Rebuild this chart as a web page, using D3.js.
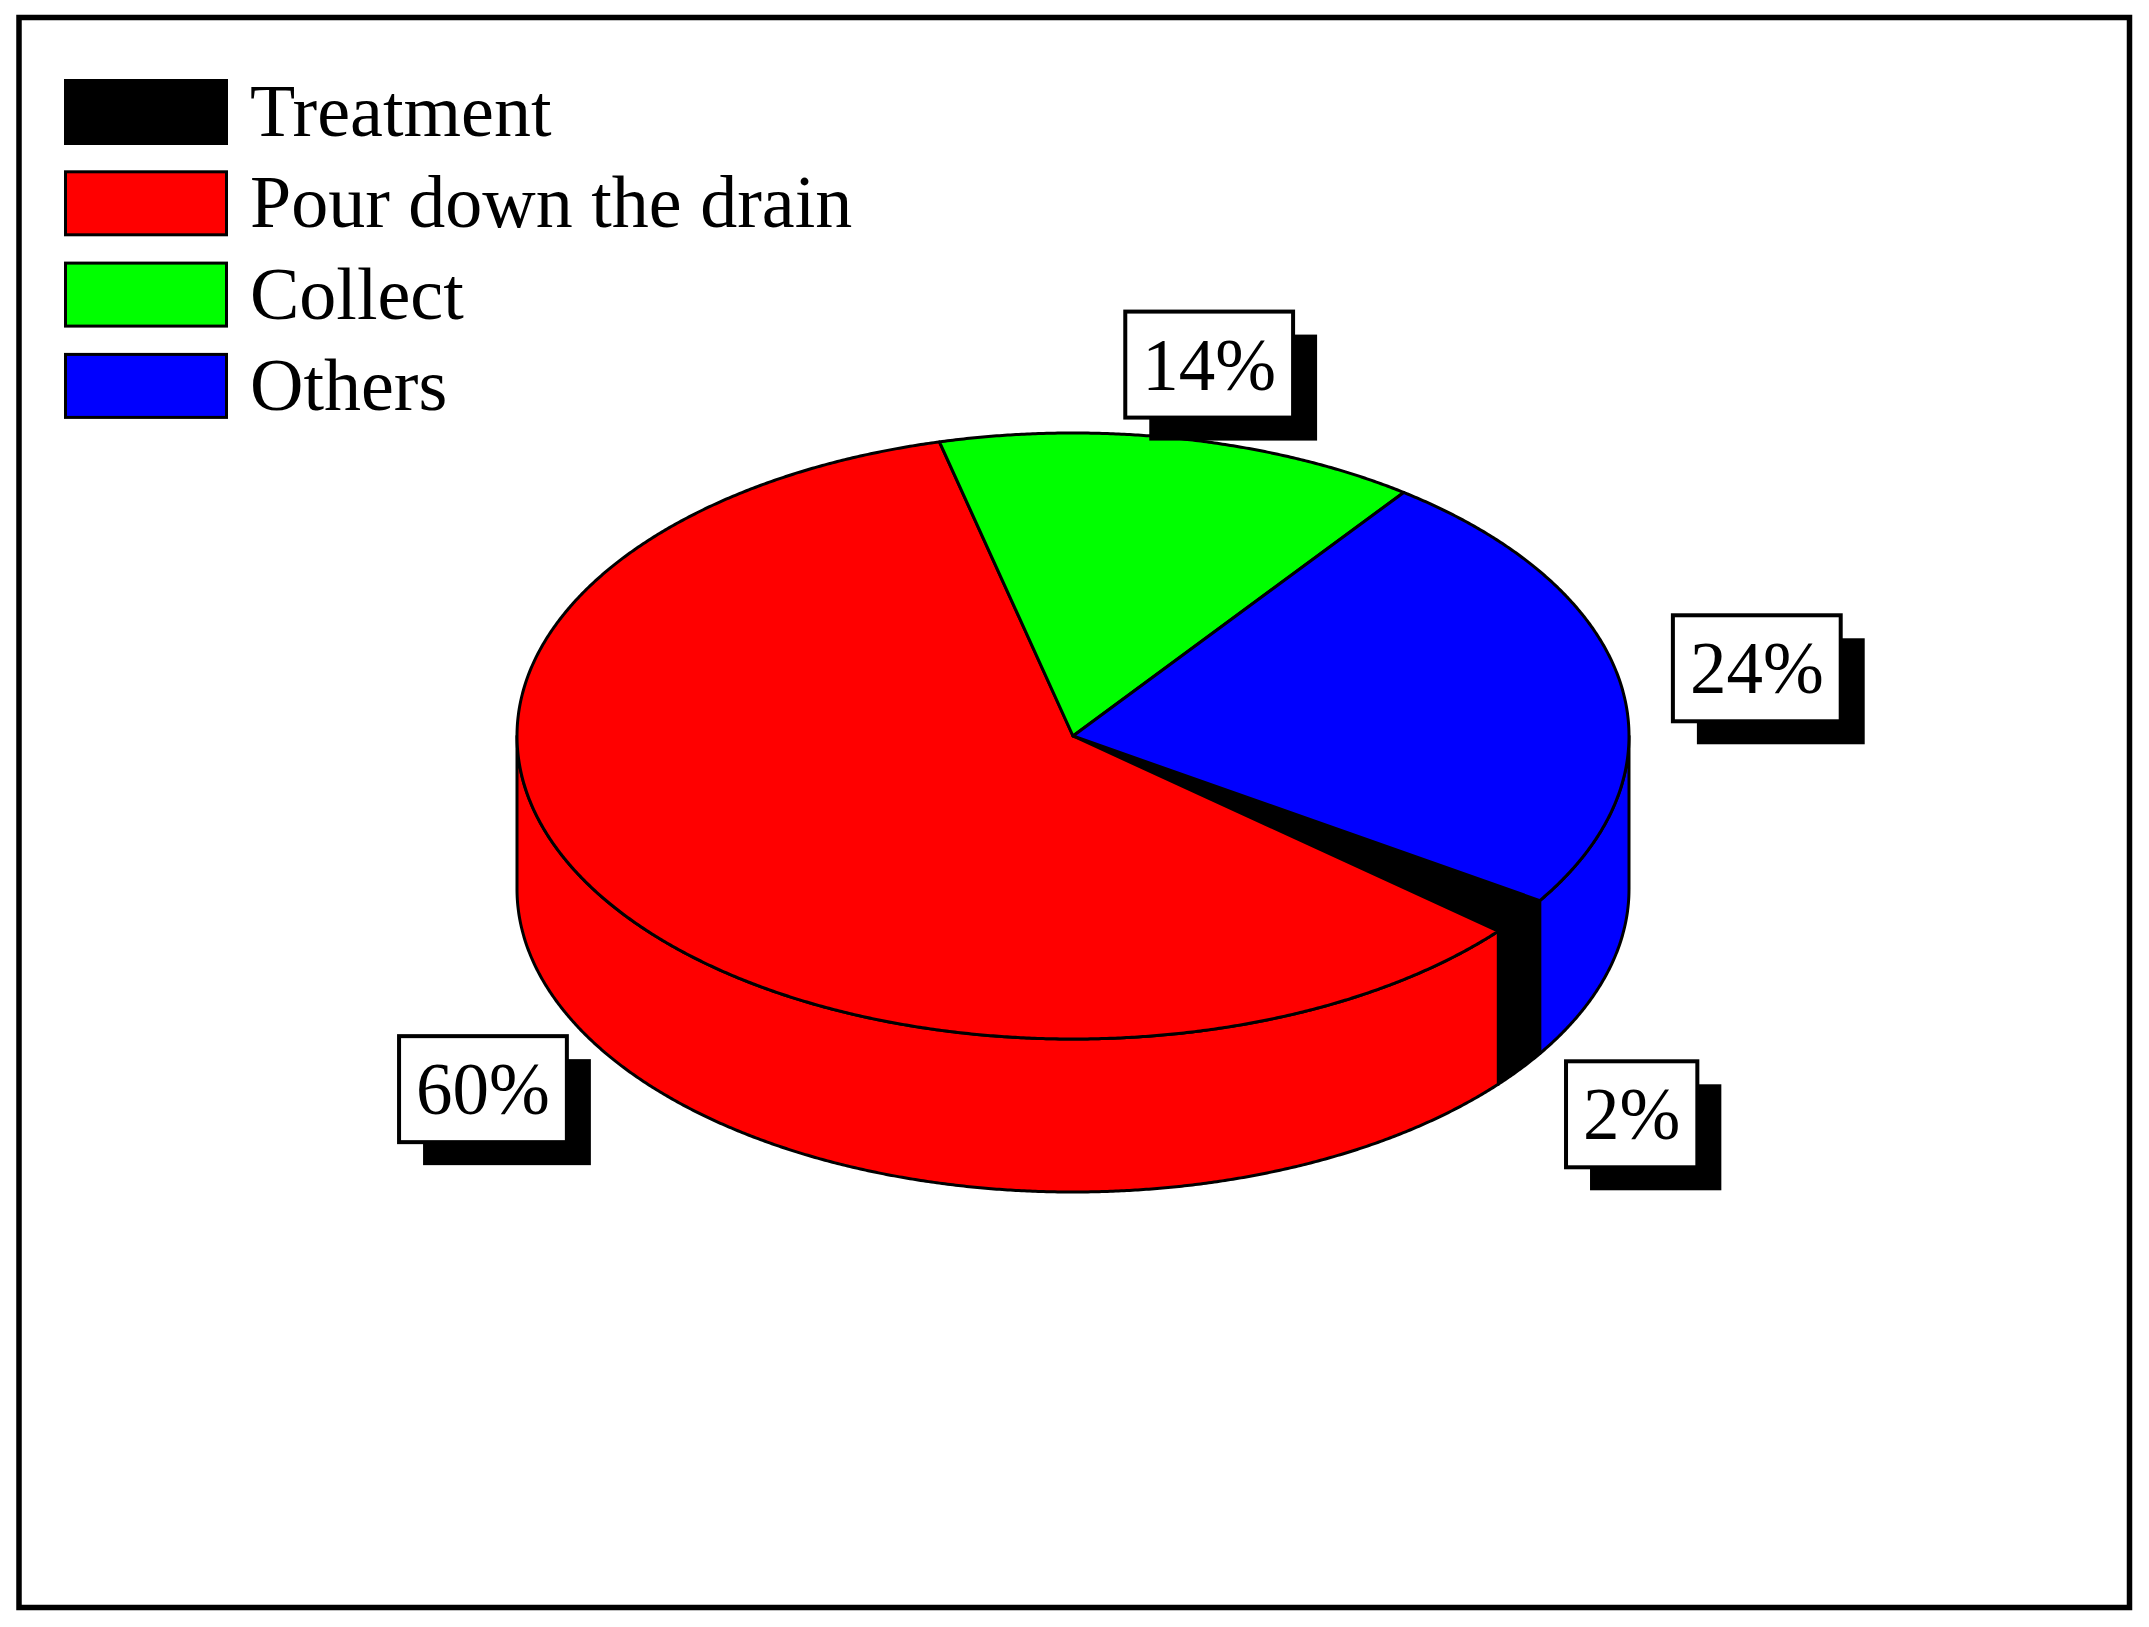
<!DOCTYPE html>
<html>
<head>
<meta charset="utf-8">
<script src="https://cdn.jsdelivr.net/npm/d3@7"></script>
<style>
  html, body { margin: 0; padding: 0; background: #fff; }
  svg { display: block; }
  text { font-family: "Liberation Serif", "Times New Roman", serif; fill: #000; }
</style>
</head>
<body>
<svg id="chart"></svg>
<script>
// data
const categories = ['Treatment', 'Pour down the drain', 'Collect', 'Others'];
const values = [2, 60, 14, 24];
const colors = ['#000000', '#ff0000', '#00ff00', '#0000ff'];

const width = 2149;
const height = 1627;

const svg = d3.select('#chart').attr('width', width).attr('height', height);

// outer frame
svg.append('rect')
  .attr('x', 19).attr('y', 17.5)
  .attr('width', 2129.5 - 19).attr('height', 1607.5 - 17.5)
  .attr('fill', '#fff').attr('stroke', '#000').attr('stroke-width', 5.5);

const color = d3.scaleOrdinal().domain(categories).range(colors);

// 3d pie geometry
const cx = 1073, cy = 736, rx = 556, ry = 303, depth = 153;
const start = 122.9 * Math.PI / 180;

const pie = d3.pie().sort(null).value(d => d.value)
  .startAngle(start).endAngle(start + 2 * Math.PI);
const arcs = pie(categories.map((c, i) => ({name: c, value: values[i]})));

const pt = (a, dy) => [cx + rx * Math.sin(a), cy - ry * Math.cos(a) + dy];
const ring = (a0, a1, dy) => {
  const n = Math.max(2, Math.ceil((a1 - a0) / 0.005));
  return d3.range(n + 1).map(i => pt(a0 + (a1 - a0) * i / n, dy));
};
const line = d3.line();

// side walls (only the front half of the ellipse is visible)
const sides = [];
arcs.forEach(d => {
  [[Math.PI / 2, 3 * Math.PI / 2], [5 * Math.PI / 2, 7 * Math.PI / 2]].forEach(([lo, hi]) => {
    const b0 = Math.max(d.startAngle, lo), b1 = Math.min(d.endAngle, hi);
    if (b1 > b0) sides.push({d: d, b0: b0, b1: b1});
  });
});

svg.append('g').selectAll('path').data(sides).join('path')
  .attr('d', s => line(ring(s.b0, s.b1, 0).concat(ring(s.b0, s.b1, depth).reverse())) + 'Z')
  .attr('fill', s => color(s.d.data.name))
  .attr('stroke', '#000').attr('stroke-width', 3).attr('stroke-linejoin', 'round');

// top faces
svg.append('g').selectAll('path').data(arcs).join('path')
  .attr('d', d => line([[cx, cy]].concat(ring(d.startAngle, d.endAngle, 0))) + 'Z')
  .attr('fill', d => color(d.data.name))
  .attr('stroke', '#000').attr('stroke-width', 3).attr('stroke-linejoin', 'round');

// percentage labels with drop shadow
const labelG = svg.append('g').selectAll('g').data(arcs).join('g')
  .attr('transform', d => {
    const m = (d.startAngle + d.endAngle) / 2;
    const x = cx + 1.25 * rx * Math.sin(m);
    const y = cy - 1.25 * ry * Math.cos(m) + (Math.cos(m) < 0 ? depth : 0);
    return `translate(${x},${y})`;
  });

labelG.each(function(d) {
  const g = d3.select(this);
  const shadow = g.append('rect').attr('fill', '#000');
  const box = g.append('rect').attr('fill', '#fff').attr('stroke', '#000').attr('stroke-width', 4);
  const t = g.append('text')
    .attr('text-anchor', 'middle')
    .attr('y', 25)
    .style('font-size', '73px')
    .text(d.data.value + '%');
  const w = t.node().getComputedTextLength() + 34;
  const h = 106;
  box.attr('x', -w / 2).attr('y', -h / 2).attr('width', w).attr('height', h);
  shadow.attr('x', -w / 2 + 24).attr('y', -h / 2 + 23).attr('width', w).attr('height', h);
});

// legend
const legend = svg.append('g').selectAll('g').data(categories).join('g')
  .attr('transform', (d, i) => `translate(64,${79 + i * 91.3})`);

legend.append('rect')
  .attr('x', 1.5).attr('y', 1.5)
  .attr('width', 161).attr('height', 63)
  .attr('fill', d => color(d))
  .attr('stroke', '#000').attr('stroke-width', 3);

legend.append('text')
  .attr('x', 186).attr('y', 57)
  .style('font-size', '74px')
  .text(d => d);
</script>
</body>
</html>
